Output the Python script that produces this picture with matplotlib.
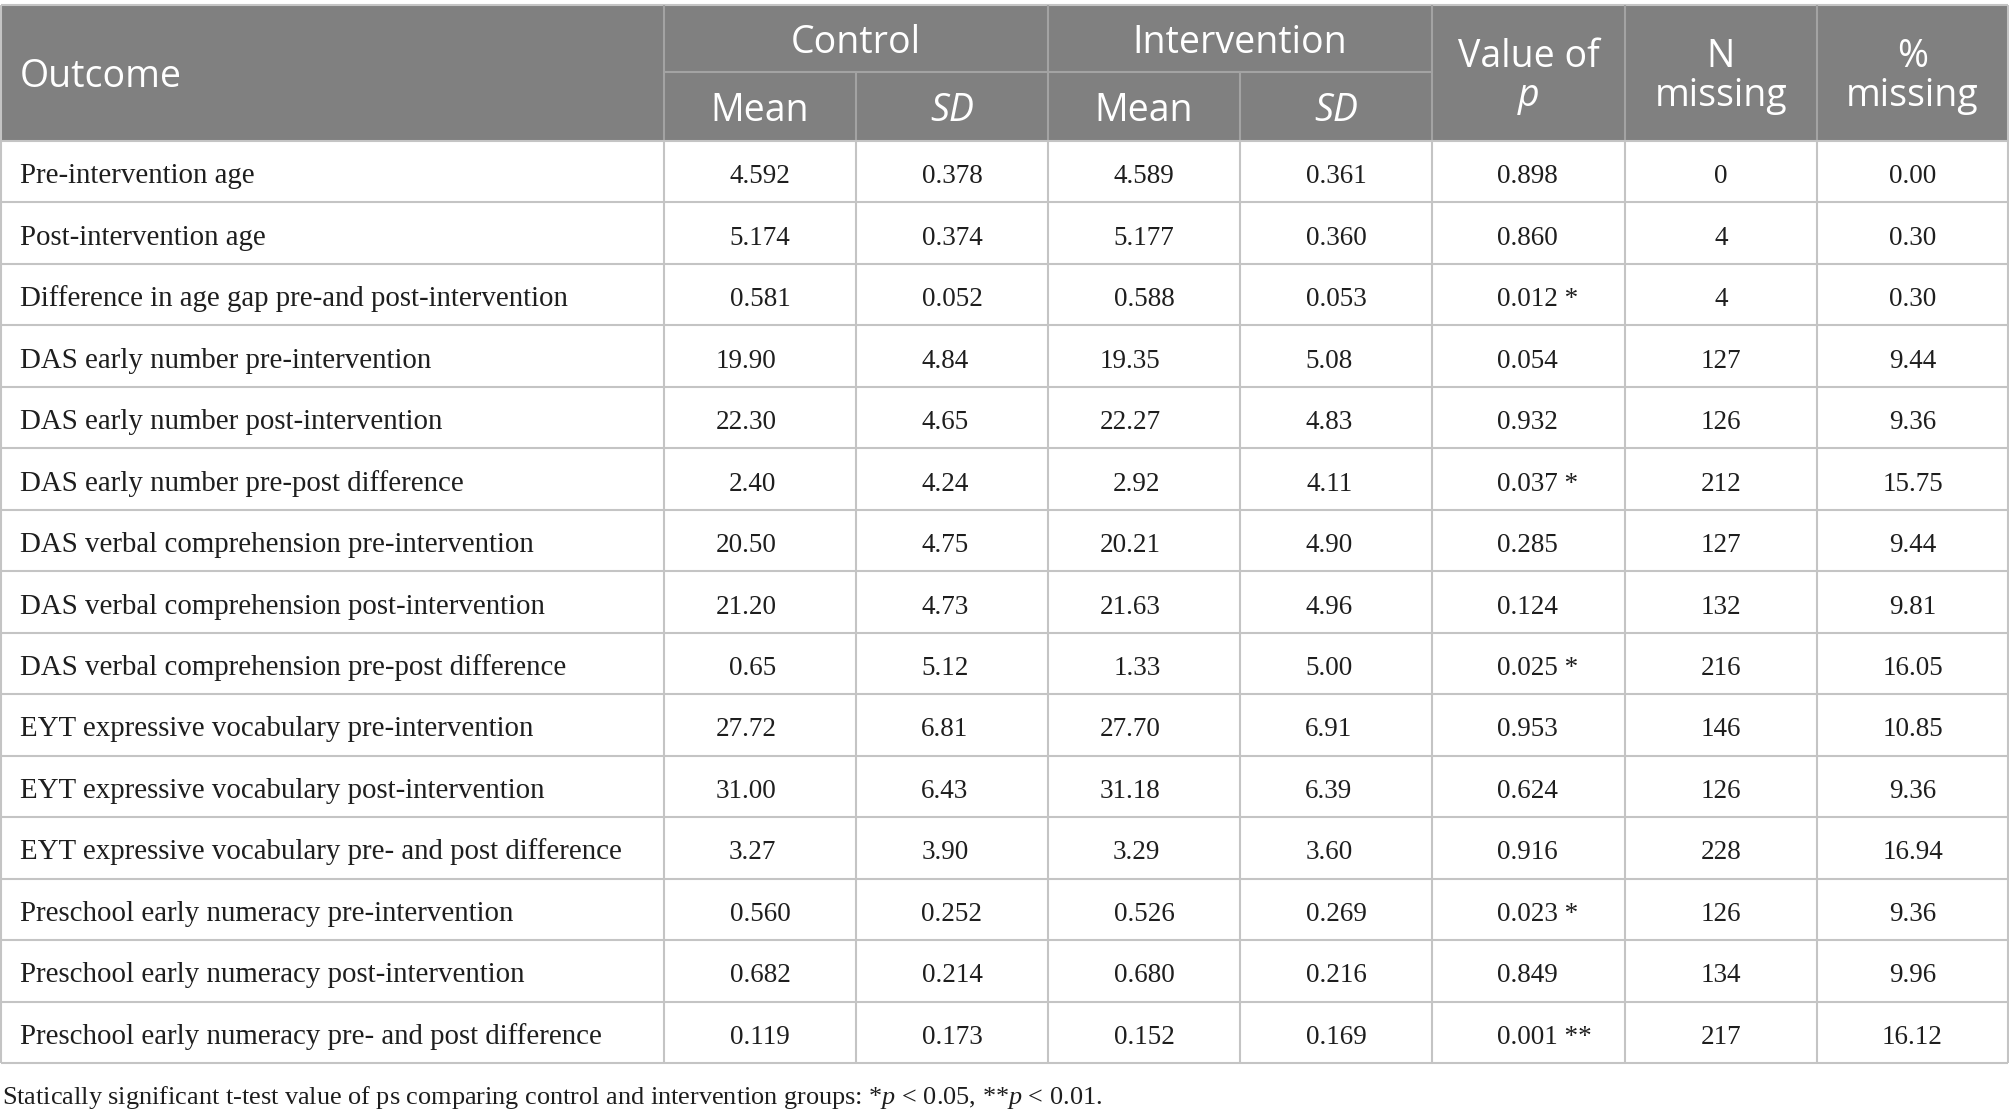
import matplotlib.pyplot as plt
import matplotlib as mpl

mpl.rcParams['mathtext.fontset'] = 'custom'
mpl.rcParams['mathtext.rm'] = 'Liberation Serif'
mpl.rcParams['mathtext.it'] = 'Liberation Serif:italic'

outcomes = [
    "Pre-intervention age",
    "Post-intervention age",
    "Difference in age gap pre-and post-intervention",
    "DAS early number pre-intervention",
    "DAS early number post-intervention",
    "DAS early number pre-post difference",
    "DAS verbal comprehension pre-intervention",
    "DAS verbal comprehension post-intervention",
    "DAS verbal comprehension pre-post difference",
    "EYT expressive vocabulary pre-intervention",
    "EYT expressive vocabulary post-intervention",
    "EYT expressive vocabulary pre- and post difference",
    "Preschool early numeracy pre-intervention",
    "Preschool early numeracy post-intervention",
    "Preschool early numeracy pre- and post difference",
]
ctrl_mean = ["4.592", "5.174", "0.581", "19.90", "22.30", "2.40", "20.50", "21.20",
             "0.65", "27.72", "31.00", "3.27", "0.560", "0.682", "0.119"]
ctrl_sd = ["0.378", "0.374", "0.052", "4.84", "4.65", "4.24", "4.75", "4.73",
           "5.12", "6.81", "6.43", "3.90", "0.252", "0.214", "0.173"]
int_mean = ["4.589", "5.177", "0.588", "19.35", "22.27", "2.92", "20.21", "21.63",
            "1.33", "27.70", "31.18", "3.29", "0.526", "0.680", "0.152"]
int_sd = ["0.361", "0.360", "0.053", "5.08", "4.83", "4.11", "4.90", "4.96",
          "5.00", "6.91", "6.39", "3.60", "0.269", "0.216", "0.169"]
p_values = ["0.898", "0.860", "0.012", "0.054", "0.932", "0.037", "0.285", "0.124",
            "0.025", "0.953", "0.624", "0.916", "0.023", "0.849", "0.001"]
p_stars = ["", "", "*", "", "", "*", "", "", "*", "", "", "", "*", "", "**"]
n_missing = ["0", "4", "4", "127", "126", "212", "127", "132",
             "216", "146", "126", "228", "126", "134", "217"]
pct_missing = ["0.00", "0.30", "0.30", "9.44", "9.36", "15.75", "9.44", "9.81",
               "16.05", "10.85", "9.36", "16.94", "9.36", "9.96", "16.12"]

footnote = (r"Statically significant t-test value of ps comparing control and "
            r"intervention groups: *$p$ < 0.05, **$p$ < 0.01.")

# layout in pixels
W, H = 2009, 1119
col_edges = [1, 664, 856, 1048, 1240, 1432, 1625, 1817, 2008]
head_top, head_mid, head_bot = 5, 72, 141
row_h = 61.47
n_rows = len(outcomes)
table_bot = head_bot + n_rows * row_h

header_color = "#808080"
head_line = "#a3a3a3"
grid_color = "#c4c4c4"
text_color = "#1e1e1e"
head_font = "Open Sans"
body_font = "Liberation Serif"
hsize = 27
lsize = 20.8   # row labels
nsize = 19.5   # numbers

fig = plt.figure(figsize=(W / 100, H / 100), dpi=100)
ax = fig.add_axes([0, 0, 1, 1])
ax.set_xlim(0, W)
ax.set_ylim(H, 0)
ax.axis("off")

# header background
ax.fill_between([col_edges[0], col_edges[-1]], head_top, head_bot, color=header_color, lw=0)
ax.hlines(head_top - 0.5, col_edges[0], col_edges[-1], color=grid_color, lw=1.5)

# header lines
ax.hlines(head_mid, col_edges[1], col_edges[5], color=head_line, lw=1.5)
for i in [1, 3, 5, 6, 7]:
    ax.vlines(col_edges[i], head_top, head_bot, color=head_line, lw=1.5)
for i in [2, 4]:
    ax.vlines(col_edges[i], head_mid, head_bot, color=head_line, lw=1.5)

# body grid
for r in range(n_rows + 1):
    ax.hlines(head_bot + r * row_h, col_edges[0], col_edges[-1], color=grid_color, lw=1.5)
for x in col_edges:
    ax.vlines(x, head_bot, table_bot, color=grid_color, lw=1.5)
ax.vlines([col_edges[0], col_edges[-1]], head_top, head_bot, color=grid_color, lw=1.5)

centers = [(col_edges[i] + col_edges[i + 1]) / 2 for i in range(len(col_edges) - 1)]


def htext(x, y, s, ha="center", style="normal"):
    ax.text(x, y, s, ha=ha, va="baseline", color="white", fontsize=hsize,
            family=head_font, fontstyle=style)


htext(20, 87, "Outcome", ha="left")
htext((col_edges[1] + col_edges[3]) / 2, 53, "Control")
htext((col_edges[3] + col_edges[5]) / 2, 53, "Intervention")
htext(centers[1], 121, "Mean")
htext(centers[2], 121, "SD", style="italic")
htext(centers[3], 121, "Mean")
htext(centers[4], 121, "SD", style="italic")
htext(centers[5], 67, "Value of")
htext(centers[5], 106, "p", style="italic")
htext(centers[6], 67, "N")
htext(centers[6], 106, "missing")
htext(centers[7], 67, "%")
htext(centers[7], 106, "missing")


def btext(x, y, s, ha="center", size=nsize):
    ax.text(x, y, s, ha=ha, va="baseline", color=text_color, fontsize=size,
            family=body_font)


for r in range(n_rows):
    base = head_bot + (r + 0.5) * row_h + 11.5
    btext(20, base, outcomes[r], ha="left", size=lsize)
    for c, col in zip([1, 2, 3, 4], [ctrl_mean, ctrl_sd, int_mean, int_sd]):
        s = col[r]
        if len(s.split(".")[1]) == 2:
            btext(centers[c] + 16.5, base, s, ha="right")
        else:
            btext(centers[c], base, s)
    p = p_values[r] + (" " + p_stars[r] if p_stars[r] else "")
    btext(centers[5] - 31.5, base, p, ha="left")
    btext(centers[6], base, n_missing[r])
    btext(centers[7], base, pct_missing[r])

ax.text(2, 1104, footnote, ha="left", va="baseline", color=text_color,
        fontsize=18.9, family=body_font)

fig.savefig("out.png", dpi=100)
